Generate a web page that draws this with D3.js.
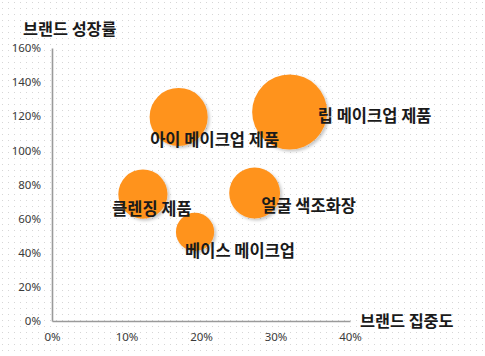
<!DOCTYPE html>
<html><head><meta charset="utf-8">
<script src="https://cdn.jsdelivr.net/npm/d3@7"></script>
<style>
html,body{margin:0;padding:0;background:#fff;}
svg{display:block;}
</style></head>
<body>
<svg id="chart" width="485" height="356"></svg>
<script>
// ---- data ----
const categories = ["립 메이크업 제품", "아이 메이크업 제품", "클렌징 제품", "베이스 메이크업", "얼굴 색조화장"];
const concentration = [0.319, 0.170, 0.122, 0.192, 0.272];   // x: 브랜드 집중도
const growth = [1.225, 1.196, 0.744, 0.522, 0.750];          // y: 브랜드 성장률
const bubbleSize = [100, 60, 43, 26, 46];
const xTicks = [0, 0.1, 0.2, 0.3, 0.4];
const yTicks = [0, 0.2, 0.4, 0.6, 0.8, 1.0, 1.2, 1.4, 1.6];
const xTitle = "브랜드 집중도";
const yTitle = "브랜드 성장률";

// label placement (layout, relative to bubble centre)
const labelOffset = {
  "립 메이크업 제품": [85, 3],
  "아이 메이크업 제품": [36, 22],
  "클렌징 제품": [9, 14],
  "베이스 메이크업": [45, 18],
  "얼굴 색조화장": [54, 12]
};

(function () {
const svg = d3.select("#chart");
const W = 485, H = 356;
const mLeft = 52, mRight = 350, mTop = 48, mBottom = 321;

const defs = svg.append("defs");
const pat = defs.append("pattern").attr("id", "dots").attr("width", 6).attr("height", 6)
  .attr("patternUnits", "userSpaceOnUse");
pat.append("rect").attr("x", 2).attr("y", 2).attr("width", 1).attr("height", 1).attr("fill", "#d6d6d6");
const flt = defs.append("filter").attr("id", "shadow").attr("x", "-30%").attr("y", "-30%").attr("width", "160%").attr("height", "160%");
flt.append("feDropShadow").attr("dx", 2).attr("dy", 2).attr("stdDeviation", 1.5).attr("flood-color", "#000").attr("flood-opacity", 0.22);

svg.append("rect").attr("width", W).attr("height", H).attr("fill", "url(#dots)");

const x = d3.scaleLinear().domain([0, 0.4]).range([mLeft, mRight]);
const y = d3.scaleLinear().domain([0, 1.6]).range([mBottom, mTop]);
const r = d3.scaleSqrt().domain([0, d3.max(bubbleSize)]).range([0, 37.5]);

const fmt = d3.format(".0%");

// axes
const xAxis = svg.append("g").attr("transform", `translate(0,${mBottom})`)
  .call(d3.axisBottom(x).tickValues(xTicks).tickFormat(fmt).tickSize(0).tickPadding(12));
const yAxis = svg.append("g").attr("transform", `translate(${mLeft},0)`)
  .call(d3.axisLeft(y).tickValues(yTicks).tickFormat(fmt).tickSize(0).tickPadding(11));
[xAxis, yAxis].forEach(g => {
  g.select(".domain").attr("stroke", "#9a9a9a").attr("stroke-width", 1.6);
  g.selectAll("text").attr("font-family", "'Noto Sans', sans-serif").attr("font-size", 11.5).attr("fill", "#3a3a3a");
});

// bubbles
const data = categories.map((c, i) => ({ name: c, x: concentration[i], y: growth[i], s: bubbleSize[i] }));
const sorted = data.slice().sort((a, b) => b.s - a.s);
svg.append("g").selectAll("circle").data(sorted).join("circle")
  .attr("cx", d => x(d.x)).attr("cy", d => y(d.y)).attr("r", d => r(d.s))
  .attr("fill", "#FF931F").attr("filter", "url(#shadow)");

// labels
svg.append("g").selectAll("text").data(data).join("text")
  .attr("x", d => x(d.x) + labelOffset[d.name][0])
  .attr("y", d => y(d.y) + labelOffset[d.name][1])
  .attr("text-anchor", "middle").attr("dominant-baseline", "central")
  .attr("font-family", "'Noto Sans CJK KR', sans-serif").attr("font-weight", 700)
  .attr("font-size", 16.5).attr("fill", "#1a1a1a")
  .text(d => d.name);

// axis titles
svg.append("text").attr("x", 23).attr("y", 28).attr("dominant-baseline", "central")
  .attr("font-family", "'Noto Sans CJK KR', sans-serif").attr("font-weight", 700)
  .attr("font-size", 16.3).attr("fill", "#1a1a1a").text(yTitle);
svg.append("text").attr("x", 360).attr("y", 320).attr("dominant-baseline", "central")
  .attr("font-family", "'Noto Sans CJK KR', sans-serif").attr("font-weight", 700)
  .attr("font-size", 16.3).attr("fill", "#1a1a1a").text(xTitle);
})();
</script>
</body></html>
